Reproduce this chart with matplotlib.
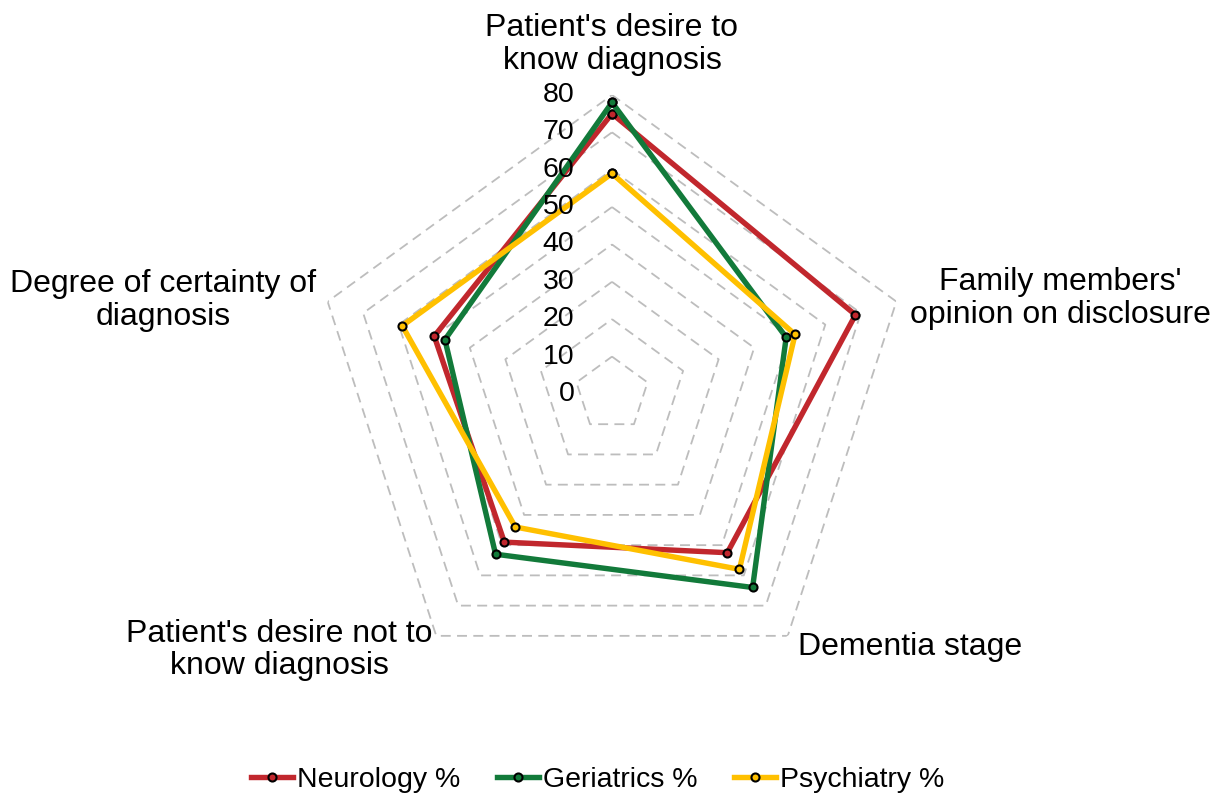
import numpy as np
import matplotlib
matplotlib.use('Agg')
import matplotlib.pyplot as plt

# Data
categories = ["Patient's desire to\nknow diagnosis",
              "Family members'\nopinion on disclosure",
              "Dementia stage",
              "Patient's desire not to\nknow diagnosis",
              "Degree of certainty of\ndiagnosis"]
neurology = [75, 68.5, 52.5, 49, 50]
geriatrics = [78, 49, 64, 53, 47]
psychiatry = [59, 51.5, 58, 44, 59]
series_names = ['Neurology %', 'Geriatrics %', 'Psychiatry %']
radial_ticks = [0, 10, 20, 30, 40, 50, 60, 70, 80]

COLORS = ['#C1272D', '#127A3A', '#FFC000']
FONT = 'Liberation Sans'
FS_CAT = 23
FS = 20.5

plt.rcParams['font.family'] = [FONT, 'DejaVu Sans']

fig = plt.figure(figsize=(12.15, 8), dpi=100)
ax = fig.add_axes([0.2576, 0.1338, 0.4922, 0.7475], projection='polar')
ax.set_theta_offset(np.pi / 2)
ax.set_theta_direction(-1)
ax.set_ylim(0, 80)
ax.grid(False)
ax.spines['polar'].set_visible(False)
ax.set_xticks([])
ax.set_yticks([])
ax.patch.set_alpha(0)

n = len(categories)
angles = np.linspace(0, 2 * np.pi, n, endpoint=False)
closed = np.append(angles, angles[0])

# dashed pentagon gridlines
for r in radial_ticks[1:]:
    ax.plot(closed, [r] * (n + 1), color='#BDBDBD', lw=1.3,
            linestyle=(0, (5.5, 3.5)), zorder=1)

# series
for vals, name, col in zip([neurology, geriatrics, psychiatry], series_names, COLORS):
    v = np.append(vals, vals[0])
    ax.plot(closed, v, color=col, lw=3.9, marker='o', markersize=5.8,
            markerfacecolor=col, markeredgecolor='black', markeredgewidth=1.5,
            label=name, zorder=3, clip_on=False)

# radial tick labels along the vertical axis
for r in radial_ticks:
    ax.annotate(str(r), xy=(0, r), xytext=(-27, 0), textcoords='offset points',
                ha='right', va='center', fontsize=FS, zorder=4)

# category labels
label_pos = [(0.5037, 0.944),
             (0.873, 0.627),
             (0.749, 0.191),
             (0.230, 0.1875),
             (0.1345, 0.624)]
for text, (x, y) in zip(categories, label_pos):
    fig.text(x, y, text, ha='center', va='center', fontsize=FS_CAT, linespacing=1.12)

leg = fig.legend(loc='center', bbox_to_anchor=(0.492, 0.025), ncol=3, frameon=False,
                 fontsize=FS, handlelength=1.45, handletextpad=0.15, columnspacing=1.3)

fig.savefig('out.png', dpi=100)
